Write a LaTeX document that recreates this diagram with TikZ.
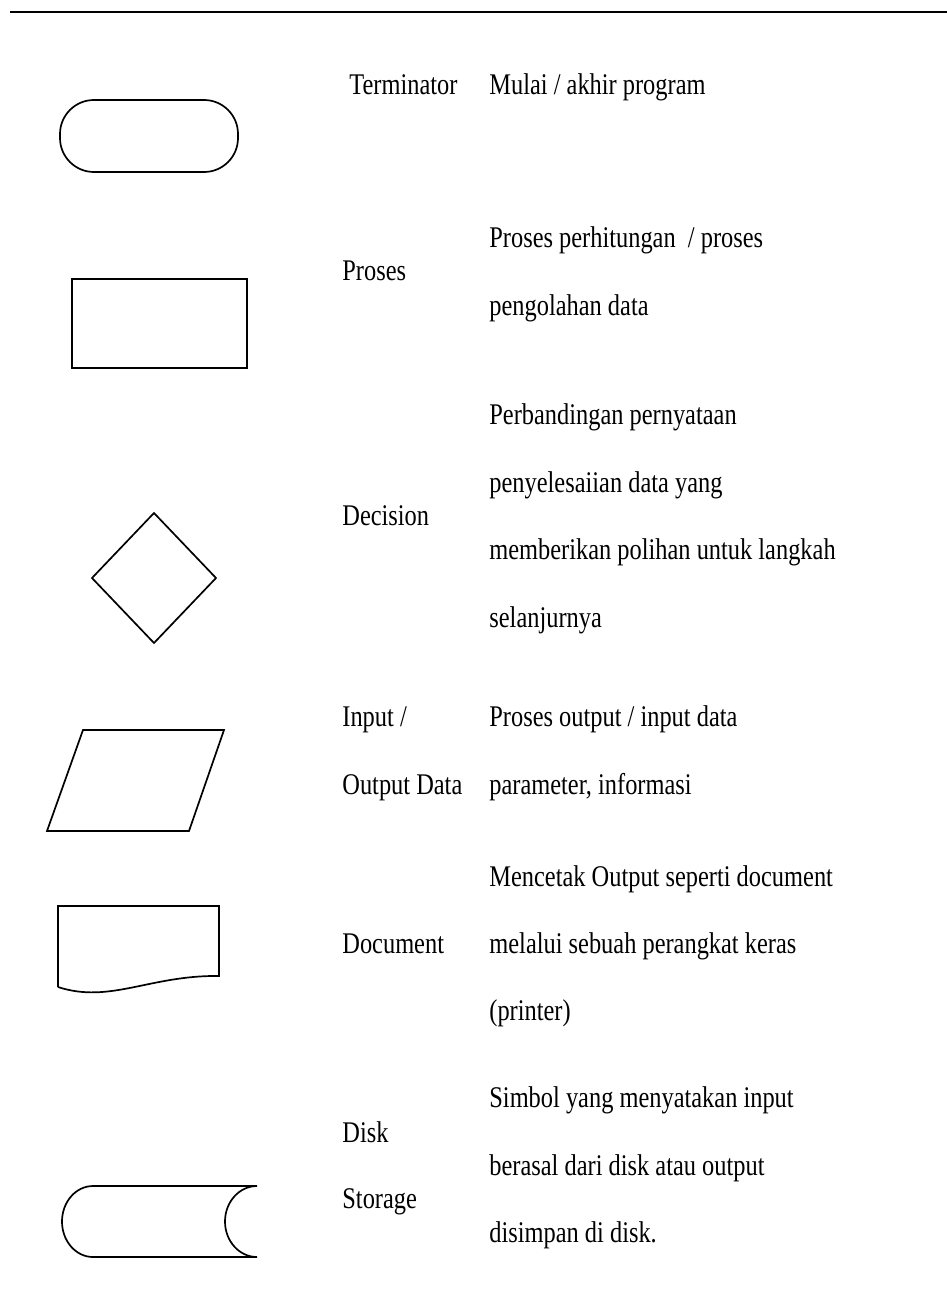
\documentclass[tikz,border=0pt]{standalone}
\usepackage{fontspec}
\usepackage{graphicx}
\setmainfont{Liberation Serif}
\newcommand{\tallt}[1]{\scalebox{1}[1.23]{#1}}
\begin{document}
\begin{tikzpicture}[x=0.5pt,y=-0.5pt,
  shapeline/.style={draw=black,line width=0.85pt,line join=miter},
  txt/.style={anchor=base west,inner sep=0pt,font=\fontsize{12.2pt}{14pt}\selectfont}]
\useasboundingbox (0,0) rectangle (947,1295);
% top rule
\coordinate (ruleL) at (10,12);
\coordinate (ruleR) at (947,12);
\draw[line width=1pt] (ruleL) -- (ruleR);

% Terminator
\draw[shapeline,rounded corners=17pt] (60,100) rectangle (238,172);
% Proses
\draw[shapeline] (72,279) rectangle (247,368);
% Decision
\draw[shapeline] (154,513) -- (216,578) -- (154,643) -- (92,578) -- cycle;
% Input / Output
\draw[shapeline] (83,730) -- (224,730) -- (189,831) -- (47,831) -- cycle;
% Document
\draw[shapeline] (58,987) -- (58,906) -- (219,906) -- (219,976)
  .. controls (150,975) and (110,1004) .. (58,987);
% Disk storage
\draw[shapeline] (257,1186) -- (93,1186)
  arc[start angle=270,end angle=90,x radius=31,y radius=35.5]
  -- (257,1257)
  arc[start angle=90,end angle=270,x radius=32,y radius=35.5];

% Labels
\node[txt] (lterm) at (349,95) {\tallt{Terminator}};
\node[txt] (dterm) at (489,95) {\tallt{Mulai / akhir program}};

\node[txt] (lproc) at (342,280) {\tallt{Proses}};
\node[txt] (dproc1) at (489,247) {\tallt{Proses perhitungan \ / proses}};
\node[txt] (dproc2) at (489,315) {\tallt{pengolahan data}};

\node[txt] (ldec) at (342,525) {\tallt{Decision}};
\node[txt] (ddec1) at (489,424) {\tallt{Perbandingan pernyataan}};
\node[txt] (ddec2) at (489,492) {\tallt{penyelesaiian data yang}};
\node[txt] (ddec3) at (489,559) {\tallt{memberikan polihan untuk langkah}};
\node[txt] (ddec4) at (489,627) {\tallt{selanjurnya}};

\node[txt] (lio1) at (342,726) {\tallt{Input /}};
\node[txt] (lio2) at (342,794) {\tallt{Output Data}};
\node[txt] (dio1) at (489,726) {\tallt{Proses output / input data}};
\node[txt] (dio2) at (489,794) {\tallt{parameter, informasi}};

\node[txt] (ldoc) at (342,953) {\tallt{Document}};
\node[txt] (ddoc1) at (489,886) {\tallt{Mencetak Output seperti document}};
\node[txt] (ddoc2) at (489,953) {\tallt{melalui sebuah perangkat keras}};
\node[txt] (ddoc3) at (489,1020) {\tallt{(printer)}};

\node[txt] (ldisk1) at (342,1142) {\tallt{Disk}};
\node[txt] (ldisk2) at (342,1208) {\tallt{Storage}};
\node[txt] (ddisk1) at (489,1107) {\tallt{Simbol yang menyatakan input}};
\node[txt] (ddisk2) at (489,1175) {\tallt{berasal dari disk atau output}};
\node[txt] (ddisk3) at (489,1242) {\tallt{disimpan di disk.}};
\end{tikzpicture}
\end{document}
